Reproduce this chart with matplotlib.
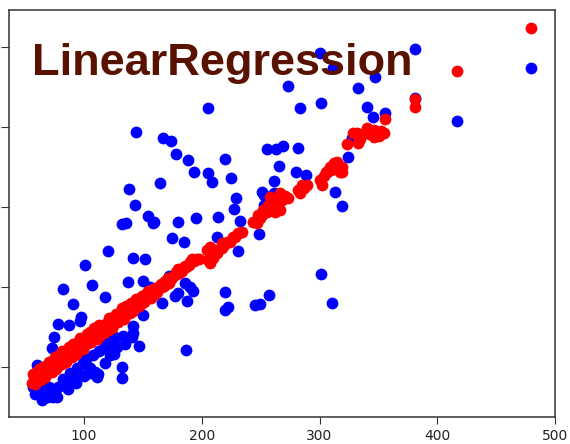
import matplotlib
matplotlib.use("Agg")
import matplotlib.pyplot as plt

# actual target values (blue)
actual_x = [205.5, 144.4, 167.1, 173.9, 178.4, 188.5, 219.5, 193.4, 205.5, 209.1,
            224.8, 164.5, 138.4, 228.9, 143.0, 154.6, 159.7, 132.0, 135.7, 180.1,
            194.8, 214.0, 232.4, 255.1, 263.0, 268.7, 281.4, 265.8, 280.0, 261.5,
            251.4, 252.8, 261.5, 300.3, 381.0, 479.2, 311.6, 347.0, 273.4, 332.3,
            283.4, 301.2, 381.0, 340.0, 345.6, 355.5, 416.4, 324.4, 288.5, 306.0,
            313.1, 319.3, 301.2, 310.8, 327.2, 158.8, 174.4, 184.9, 213.1, 230.5,
            248.8, 120.1, 141.9, 151.8, 100.8, 81.9, 106.5, 137.6, 150.3, 117.8,
            90.4, 97.5, 96.6, 78.2, 87.3, 74.8, 72.6, 141.9, 146.9, 125.7,
            132.0, 132.0, 111.6, 105.1, 186.3, 177.2, 179.5, 187.2, 190.0, 192.8,
            166.5, 150.3, 219.7, 219.7, 222.5, 245.2, 249.4, 257.3, 60.4, 64.1,
            73.9, 57.0, 253.0, 227.2, 156.0, 172.4, 186.0, 126.3, 133.4, 140.5,
            119.3, 124.9, 117.8, 62.6, 69.7, 76.8, 78.2, 83.9, 89.6, 95.2,
            103.7, 109.3, 110.8, 117.8, 122.1, 115.0, 67.0, 86.0, 93.0, 100.0,
            106.0, 99.0, 70.0, 75.0, 82.0, 88.0, 94.0, 102.0, 108.0, 113.0,
            121.0, 128.0, 135.0, 142.0, 63.0, 58.0]
actual_y = [423.0, 393.8, 385.9, 382.5, 365.9, 358.0, 359.3, 344.0, 341.8, 330.5,
            335.9, 329.3, 322.1, 311.3, 302.5, 288.8, 281.3, 278.1, 279.0, 280.5,
            285.5, 287.5, 282.1, 371.8, 371.8, 376.3, 373.0, 351.3, 342.8, 332.1,
            318.0, 314.6, 317.5, 492.5, 497.1, 473.8, 473.8, 462.5, 451.3, 448.8,
            423.0, 429.3, 436.3, 424.3, 411.8, 416.8, 407.5, 361.8, 339.6, 343.0,
            318.0, 301.3, 215.5, 180.0, 385.5, 280.0, 260.5, 255.5, 262.5, 244.6,
            265.5, 244.6, 236.3, 234.6, 227.1, 197.1, 202.1, 206.3, 207.5, 186.8,
            178.4, 161.8, 157.5, 153.4, 152.1, 137.5, 123.0, 150.9, 125.9, 115.5,
            99.3, 86.3, 90.5, 98.8, 120.9, 188.4, 192.5, 182.5, 200.0, 194.6,
            180.0, 164.6, 193.8, 170.9, 174.3, 177.1, 178.4, 189.6, 102.1, 58.4,
            62.5, 75.0, 302.1, 296.8, 200.0, 213.4, 205.0, 136.8, 138.4, 136.8,
            133.4, 131.3, 123.0, 64.6, 62.5, 62.5, 75.0, 77.1, 85.5, 89.6,
            100.0, 93.8, 87.5, 104.3, 114.6, 133.4, 68.0, 72.0, 80.0, 88.0,
            92.0, 104.0, 74.0, 70.0, 84.0, 92.0, 98.0, 110.0, 114.0, 120.0,
            126.0, 124.0, 128.0, 142.0, 72.0, 66.0]

# model predictions (red)
pred_x = [56, 57.5, 58, 59.5, 60, 61, 62, 63, 63.5, 64.5,
          65, 66, 67, 68, 69, 70, 71, 72, 73, 74,
          75, 76, 77, 78, 79, 80, 81, 82, 83, 84,
          85, 86, 87, 88, 89, 90, 91, 92, 93, 94,
          95, 96, 97, 98, 99, 100, 101, 102, 103, 104,
          105, 106, 107, 108, 109, 110, 111.5, 112.5, 114, 115,
          116.5, 118, 119, 120.5, 122, 123.5, 125, 126.5, 128, 130,
          131.5, 133, 135, 137, 139, 141, 143, 145.5, 148, 150,
          152.5, 155, 157.5, 160, 163, 166, 169, 172, 175, 178,
          181, 184, 187, 190, 193, 196,
          57, 59, 61.5, 64, 66.5, 69.5, 72.5, 75.5, 78.5, 81.5,
          84.5, 87.5, 90.5, 93.5, 96.5, 99.5, 102.5, 105.5, 108.5, 111,
          113, 117, 121, 124, 127, 129, 132, 134, 136, 138,
          140, 142, 144, 146.5, 149, 151, 154, 156.5, 159, 162,
          165, 168, 171, 174, 177, 180, 183, 186, 189, 192, 198,
          204.2, 207.0, 209.8, 212.7, 216.9, 221.1, 226.7, 231.0, 233.9, 207.0,
          205.5, 216.9, 223.9, 231.8, 210.5, 219.0, 228.5,
          243.7, 246.6, 249.4, 248.0, 252.2, 255.1, 262.1, 256.5, 260.8, 263.6,
          267.8, 266.4, 273.4, 257.9, 266.4, 251.0, 258.5, 264.5, 270.5,
          281.9, 284.8, 289.0, 283.4, 300.3, 301.8, 305.2, 308.8, 311.6, 312.5,
          315.9, 318.7, 317.3, 319.3, 314.5, 287.0, 303.5, 310.0,
          323.4, 328.6, 332.9, 331.5, 340.0, 340.0, 346.4, 346.4, 354.9, 355.5,
          334.5, 343.0, 350.5, 352.0,
          381.0, 381.0, 416.4, 479.2]
pred_y = [79.4, 88.0, 78.5, 92.1, 86.6, 82.7, 95.7, 87.8, 93.3, 84.4,
          99.9, 94.0, 90.0, 100.1, 95.1, 106.2, 93.3, 101.3, 97.4, 107.4,
          102.5, 97.6, 108.6, 113.7, 104.7, 110.8, 103.9, 116.9, 110.0, 117.0,
          109.1, 116.2, 124.2, 113.3, 121.3, 112.4, 125.5, 121.5, 119.6, 129.6,
          119.7, 127.8, 125.8, 134.9, 122.9, 133.0, 129.1, 137.1, 129.2, 135.2,
          143.3, 130.4, 139.4, 135.5, 143.5, 139.6, 148.2, 138.3, 146.8, 142.9,
          152.5, 147.1, 153.1, 145.7, 154.3, 160.9, 152.5, 160.1, 158.7, 165.8,
          160.4, 170.0, 165.1, 172.2, 167.3, 175.5, 174.6, 182.2, 177.9, 184.0,
          190.7, 186.3, 193.0, 190.6, 199.8, 200.0, 207.1, 204.3, 212.5, 218.7,
          216.9, 223.0, 224.2, 230.4, 231.6, 234.0,
          91.4, 83.5, 97.2, 95.8, 86.5, 103.7, 93.9, 112.0, 102.2, 119.4,
          105.6, 118.8, 128.9, 116.1, 135.3, 121.5, 140.7, 131.8, 148.0, 134.7,
          151.8, 142.0, 160.3, 148.4, 165.6, 155.7, 172.9, 160.0, 176.2, 168.3,
          179.4, 169.5, 184.6, 175.3, 187.9, 181.1, 194.2, 185.9, 197.5, 193.7,
          203.9, 201.1, 211.3, 209.4, 214.6, 221.8, 219.0, 226.2, 227.3, 234.5, 234.9,
          245.9, 250.0, 235.5, 241.8, 254.3, 256.3, 262.5, 266.8, 268.8, 229.3,
          233.4, 248.0, 256.3, 266.8, 246.0, 252.0, 262.0,
          281.3, 279.3, 285.5, 289.6, 295.9, 293.8, 293.8, 302.1, 300.0, 306.3,
          308.4, 316.8, 310.5, 312.5, 295.9, 290.0, 297.5, 303.0, 313.5,
          320.9, 327.1, 327.1, 316.8, 333.4, 327.1, 343.0, 350.0, 352.1, 354.3,
          350.0, 350.0, 343.8, 343.8, 356.3, 323.0, 338.0, 345.5,
          378.4, 391.8, 380.0, 391.8, 398.0, 391.8, 395.9, 386.8, 392.5, 409.6,
          385.0, 391.0, 389.0, 395.0,
          434.6, 425.0, 469.6, 523.0]

x_ticks = [100, 200, 300, 400, 500]
y_ticks = [100, 200, 300, 400, 500]
model_name = "LinearRegression"

fig = plt.figure(figsize=(5.7, 4.44), dpi=100)
ax = fig.add_axes([9 / 570, 1 - 417 / 444, 546 / 570, 407 / 444])

ax.scatter(actual_x, actual_y, s=72, color="#0000ff", linewidths=0, zorder=2)
ax.scatter(pred_x, pred_y, s=72, color="#ff0000", linewidths=0, zorder=3)

ax.set_xlim(36.3, 500)
ax.set_ylim(37.1, 545.9)
ax.set_xticks(x_ticks)
ax.set_yticks(y_ticks)
ax.tick_params(axis="y", labelleft=False, length=6, color="#333333")
ax.tick_params(axis="x", labelsize=10, length=5, color="#333333", labelcolor="#222222")
for sp in ax.spines.values():
    sp.set_color("#333333")
    sp.set_linewidth(1.1)

fig.text(32 / 570, 1 - 75 / 444, model_name, fontsize=32.5, fontweight="bold",
         family="Liberation Sans", color="#5a1200", va="baseline", ha="left", zorder=5)

fig.savefig("out.png", dpi=100)
